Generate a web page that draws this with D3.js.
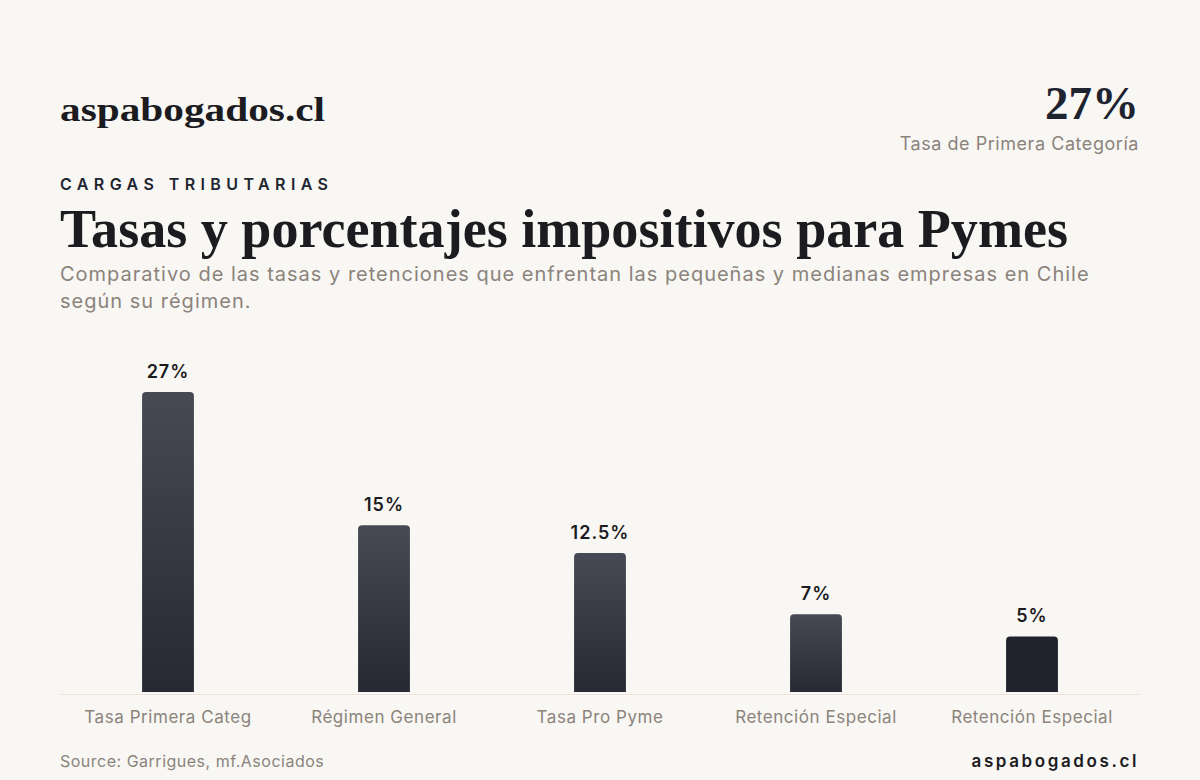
<!DOCTYPE html>
<html>
<head>
<meta charset="utf-8">
<script src="https://cdn.jsdelivr.net/npm/d3@7"></script>
<style>
  html, body { margin: 0; padding: 0; background: #f8f7f3; }
  svg { display: block; }
</style>
</head>
<body>
<svg id="chart" width="1200" height="780"></svg>
<script>
// data
var categories = ['Tasa Primera Categ', 'Régimen General', 'Tasa Pro Pyme', 'Retención Especial', 'Retención Especial'];
var values = [27, 15, 12.5, 7, 5];
var valueLabels = ['27%', '15%', '12.5%', '7%', '5%'];
var highlight = [false, false, false, false, true];

var svg = d3.select('#chart');
var W = 1200, H = 780;
var sans = 'Inter, "Noto Sans", sans-serif';
var serif = '"Liberation Serif", "DejaVu Serif", serif';
var grey = '#8b837c';
var ink = '#1c1b1f';

svg.append('rect').attr('width', W).attr('height', H).attr('fill', '#f8f7f3');

// header
svg.append('text')
  .attr('x', 60).attr('y', 121)
  .attr('textLength', 265).attr('lengthAdjust', 'spacingAndGlyphs')
  .style('font-family', serif).style('font-weight', 700).style('font-size', '34px')
  .style('fill', ink)
  .text('aspabogados.cl');

svg.append('text')
  .attr('x', 1139).attr('y', 119)
  .attr('text-anchor', 'end')
  .style('font-family', serif).style('font-weight', 700).style('font-size', '47px')
  .style('fill', '#1f2330')
  .text('27%');

svg.append('text')
  .attr('x', 1139).attr('y', 150)
  .attr('text-anchor', 'end')
  .style('font-family', sans).style('font-size', '18px')
  .style('letter-spacing', '0.55px')
  .style('fill', grey)
  .text('Tasa de Primera Categoría');

svg.append('text')
  .attr('x', 60).attr('y', 190)
  .style('font-family', sans).style('font-weight', 600).style('font-size', '16px')
  .style('letter-spacing', '5.4px')
  .style('fill', '#22252f')
  .text('CARGAS TRIBUTARIAS');

svg.append('text')
  .attr('x', 60).attr('y', 247)
  .attr('textLength', 1008).attr('lengthAdjust', 'spacingAndGlyphs')
  .style('font-family', serif).style('font-weight', 700).style('font-size', '54px')
  .style('fill', ink)
  .text('Tasas y porcentajes impositivos para Pymes');

var sub = svg.append('text')
  .style('font-family', sans).style('font-size', '20px')
  .style('letter-spacing', '1px')
  .style('fill', grey);
sub.append('tspan').attr('x', 60).attr('y', 281)
  .text('Comparativo de las tasas y retenciones que enfrentan las pequeñas y medianas empresas en Chile');
sub.append('tspan').attr('x', 60).attr('y', 308)
  .text('según su régimen.');

// scales
var x = d3.scaleBand()
  .domain(d3.range(categories.length))
  .range([60, 1140])
  .paddingInner(0.76)
  .paddingOuter(0.38);

var y = d3.scaleLinear()
  .domain([0, 27])
  .range([692, 392]);

// gradient
var defs = svg.append('defs');
var grad = defs.append('linearGradient')
  .attr('id', 'barGrad')
  .attr('x1', 0).attr('y1', 0).attr('x2', 0).attr('y2', 1);
grad.append('stop').attr('offset', '0%').attr('stop-color', '#474954');
grad.append('stop').attr('offset', '100%').attr('stop-color', '#262932');

function barPath(x0, y0, w, h, r) {
  return 'M' + x0 + ',' + (y0 + h) +
    'V' + (y0 + r) +
    'Q' + x0 + ',' + y0 + ' ' + (x0 + r) + ',' + y0 +
    'H' + (x0 + w - r) +
    'Q' + (x0 + w) + ',' + y0 + ' ' + (x0 + w) + ',' + (y0 + r) +
    'V' + (y0 + h) + 'Z';
}

// baseline
svg.append('line')
  .attr('x1', 60).attr('x2', 1140)
  .attr('y1', y(0) + 2.5).attr('y2', y(0) + 2.5)
  .attr('stroke', '#ebe2d8').attr('stroke-width', 1);

// bars
svg.selectAll('path.bar')
  .data(values)
  .enter()
  .append('path')
  .attr('class', 'bar')
  .attr('d', function(d, i) {
    return barPath(x(i), y(d), x.bandwidth(), y(0) - y(d), 4);
  })
  .attr('fill', function(d, i) { return highlight[i] ? '#20232e' : 'url(#barGrad)'; });

// value labels
svg.selectAll('text.val')
  .data(values)
  .enter()
  .append('text')
  .attr('class', 'val')
  .attr('x', function(d, i) { return x(i) + x.bandwidth() / 2; })
  .attr('y', function(d) { return y(d) - 14; })
  .attr('text-anchor', 'middle')
  .style('font-family', sans).style('font-weight', 600).style('font-size', '18px')
  .style('letter-spacing', '1px')
  .style('fill', ink)
  .text(function(d, i) { return valueLabels[i]; });

// category labels
svg.selectAll('text.cat')
  .data(categories)
  .enter()
  .append('text')
  .attr('class', 'cat')
  .attr('x', function(d, i) { return x(i) + x.bandwidth() / 2; })
  .attr('y', 723)
  .attr('text-anchor', 'middle')
  .style('font-family', sans).style('font-size', '17px')
  .style('letter-spacing', '0.55px')
  .style('fill', grey)
  .text(function(d) { return d; });

// footer
svg.append('text')
  .attr('x', 60).attr('y', 767)
  .style('font-family', sans).style('font-size', '16px')
  .style('letter-spacing', '0.5px')
  .style('fill', grey)
  .text('Source: Garrigues, mf.Asociados');

svg.append('text')
  .attr('x', 1139).attr('y', 767)
  .attr('text-anchor', 'end')
  .style('font-family', sans).style('font-weight', 600).style('font-size', '17px')
  .style('letter-spacing', '2.6px')
  .style('fill', ink)
  .text('aspabogados.cl');
</script>
</body>
</html>
